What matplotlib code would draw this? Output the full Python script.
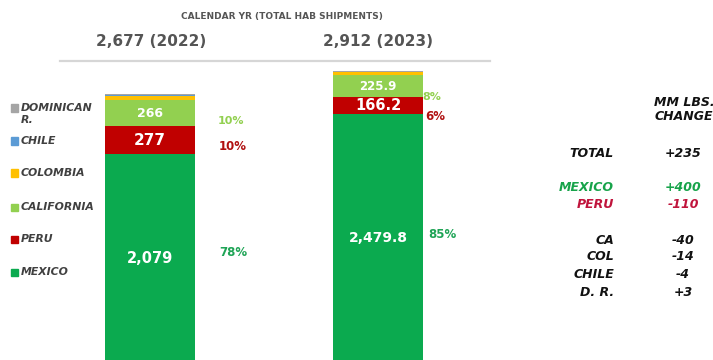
import matplotlib
matplotlib.use("Agg")
import matplotlib.pyplot as plt
from matplotlib.lines import Line2D

years = ["2022", "2023"]
totals = ["2,677 (2022)", "2,912 (2023)"]
segments = ["MEXICO", "PERU", "CALIFORNIA", "COLOMBIA", "CHILE", "DOMINICAN R."]
values = {
    "MEXICO": [2079, 2479.8],
    "PERU": [277, 166.2],
    "CALIFORNIA": [266, 225.9],
    "COLOMBIA": [40, 26],
    "CHILE": [5, 1],
    "DOMINICAN R.": [10, 13],
}
seg_labels = {
    "MEXICO": ["2,079", "2,479.8"],
    "PERU": ["277", "166.2"],
    "CALIFORNIA": ["266", "225.9"],
}
pct_labels = {
    "MEXICO": ["78%", "85%"],
    "PERU": ["10%", "6%"],
    "CALIFORNIA": ["10%", "8%"],
}
colors = {
    "MEXICO": "#0BAA4F",
    "PERU": "#C00000",
    "CALIFORNIA": "#92D050",
    "COLOMBIA": "#FFC000",
    "CHILE": "#5B9BD5",
    "DOMINICAN R.": "#A5A5A5",
}
pct_colors = {"MEXICO": "#1FA456", "PERU": "#B01010", "CALIFORNIA": "#92D050"}

chg_labels = ["TOTAL", "MEXICO", "PERU", "CA", "COL", "CHILE", "D. R."]
chg_values = ["+235", "+400", "-110", "-40", "-14", "-4", "+3"]
chg_colors = ["#111111", "#17A34A", "#C0143C", "#111111", "#111111", "#111111", "#111111"]

W, H = 713, 360
fig = plt.figure(figsize=(W / 100, H / 100), dpi=100)
ax = fig.add_axes([0, 0, 1, 1])
ax.axis("off")
px_per_unit = 228.0
x0 = -150 / px_per_unit
ax.set_xlim(x0, x0 + W / px_per_unit)
ax.set_ylim(20, 20 + 3600)

xs = [0, 1]
bw = 90 / px_per_unit
label_fs = {"MEXICO": [10.5, 10], "PERU": [11, 10.5], "CALIFORNIA": [9, 8.5]}
bottoms = [0.0, 0.0]
for seg in segments:
    v = values[seg]
    ax.bar(xs, v, bw, bottom=bottoms, color=colors[seg], linewidth=0)
    for i in range(2):
        mid = bottoms[i] + v[i] / 2
        if seg in seg_labels:
            ax.text(xs[i], mid, seg_labels[seg][i], ha="center", va="center",
                    color="white", fontsize=label_fs[seg][i], fontweight="bold")
    bottoms = [bottoms[i] + v[i] for i in range(2)]


def pxy(x, y):
    return x / W, 1 - y / H


# 2022 percents
fig.text(*pxy(231, 121), pct_labels["CALIFORNIA"][0], ha="center", va="center",
         color=pct_colors["CALIFORNIA"], fontsize=8, fontweight="bold")
fig.text(*pxy(233, 147), pct_labels["PERU"][0], ha="center", va="center",
         color=pct_colors["PERU"], fontsize=8.5, fontweight="bold")
fig.text(*pxy(233, 252), pct_labels["MEXICO"][0], ha="center", va="center",
         color=pct_colors["MEXICO"], fontsize=8.5, fontweight="bold")
# 2023 percents
fig.text(*pxy(432, 97), pct_labels["CALIFORNIA"][1], ha="center", va="center",
         color=pct_colors["CALIFORNIA"], fontsize=8, fontweight="bold")
fig.text(*pxy(435, 117), pct_labels["PERU"][1], ha="center", va="center",
         color=pct_colors["PERU"], fontsize=8.5, fontweight="bold")
fig.text(*pxy(442, 234), pct_labels["MEXICO"][1], ha="center", va="center",
         color=pct_colors["MEXICO"], fontsize=8.5, fontweight="bold")

# titles
fig.text(*pxy(282, 16), "CALENDAR YR (TOTAL HAB SHIPMENTS)", ha="center", va="center",
         color="#555555", fontsize=6.5, fontweight="bold")
fig.text(*pxy(151, 42), totals[0], ha="center", va="center", color="#555555",
         fontsize=11, fontweight="bold")
fig.text(*pxy(378, 42), totals[1], ha="center", va="center", color="#555555",
         fontsize=11, fontweight="bold")
fig.add_artist(Line2D([60 / W, 490 / W], [1 - 61 / H] * 2, color="#D6D6D6", lw=1.6))

# legend
leg = [("DOMINICAN\nR.", "DOMINICAN R.", 108), ("CHILE", "CHILE", 141),
       ("COLOMBIA", "COLOMBIA", 173), ("CALIFORNIA", "CALIFORNIA", 207),
       ("PERU", "PERU", 239), ("MEXICO", "MEXICO", 272)]
for txt, seg, y in leg:
    fig.patches.append(plt.Rectangle((11 / W, 1 - (y + 3.5) / H), 7 / W, 7 / H,
                                     transform=fig.transFigure, color=colors[seg]))
    fig.text(21 / W, 1 - (y - 5) / H, txt, ha="left", va="top", color="#404040",
             fontsize=7.8, fontweight="bold", fontstyle="italic", linespacing=1.25)

# change table
fig.text(*pxy(684, 110), "MM LBS.\nCHANGE", ha="center", va="center", color="#111111",
         fontsize=9, fontweight="bold", fontstyle="italic", linespacing=1.1)
rows_y = [153, 187, 205, 240, 257, 274, 292]
for lab, val, col, y in zip(chg_labels, chg_values, chg_colors, rows_y):
    fig.text(*pxy(614, y), lab, ha="right", va="center", color=col,
             fontsize=9, fontweight="bold", fontstyle="italic")
    fig.text(*pxy(683, y), val, ha="center", va="center", color=col,
             fontsize=9, fontweight="bold", fontstyle="italic")

fig.savefig("out.png", dpi=100, facecolor="white")
